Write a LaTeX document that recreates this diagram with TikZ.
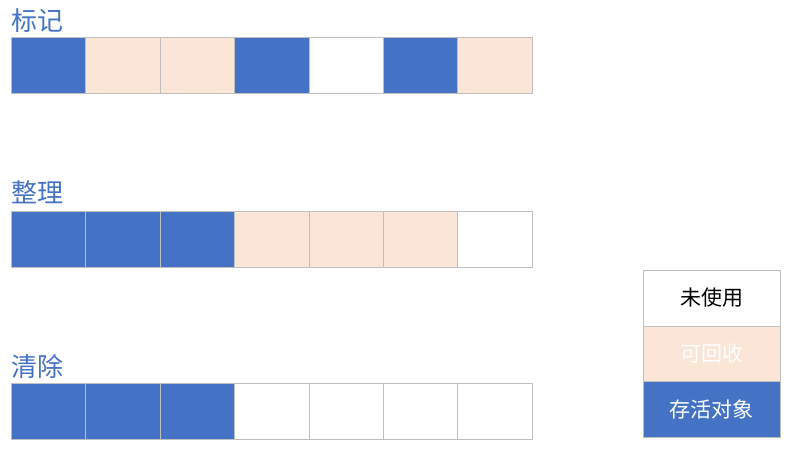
\documentclass[tikz,border=0pt]{standalone}
\usepackage{fontspec}
\newfontfamily\cjk{Noto Sans CJK SC}
\definecolor{cellB}{HTML}{4472C4}
\definecolor{cellP}{HTML}{FBE5D6}
\definecolor{cellW}{HTML}{FFFFFF}
\definecolor{cellgray}{HTML}{BFBFBF}
\begin{document}
\begin{tikzpicture}
[x=1pt,y=-1pt,
  cell/.style={draw=cellgray,minimum width=74.43pt,minimum height=56pt,inner sep=0pt,outer sep=0pt},%
  rowlabel/.style={text=cellB,font=\cjk\fontsize{26}{28}\selectfont,anchor=west,inner sep=0pt},%
  legendbox/.style={draw=cellgray,minimum width=137pt,minimum height=55.5pt,inner sep=0pt,outer sep=0pt,font=\cjk\fontsize{21}{24}\selectfont}]
\useasboundingbox (0,0) rectangle (795,451);
%% rows of heap cells
\foreach \rowname/\y/\ly/\title/\cols in {mark/65/20.5/标记/{B,P,P,B,W,B,P},
  compact/239/192/整理/{B,B,B,P,P,P,W}, sweep/411.5/366.5/清除/{B,B,B,W,W,W,W}}
{
  \node[rowlabel] (\rowname-title) at (11.5,\ly) {\title};
  \foreach \c [count=\i] in \cols
  {
    \node[cell,fill=cell\c] (\rowname-\i) at ({11+74.43*(\i-0.5)},\y) {};
  }
}
%% legend
\node[legendbox,fill=cellW,text=black] (unused) at (711.5,298) {未使用};
\node[legendbox,fill=cellP,text=white] (garbage) at (711.5,353.5) {可回收};
\node[legendbox,fill=cellB,text=white] (alive) at (711.5,409) {存活对象};
\end{tikzpicture}
\end{document}
